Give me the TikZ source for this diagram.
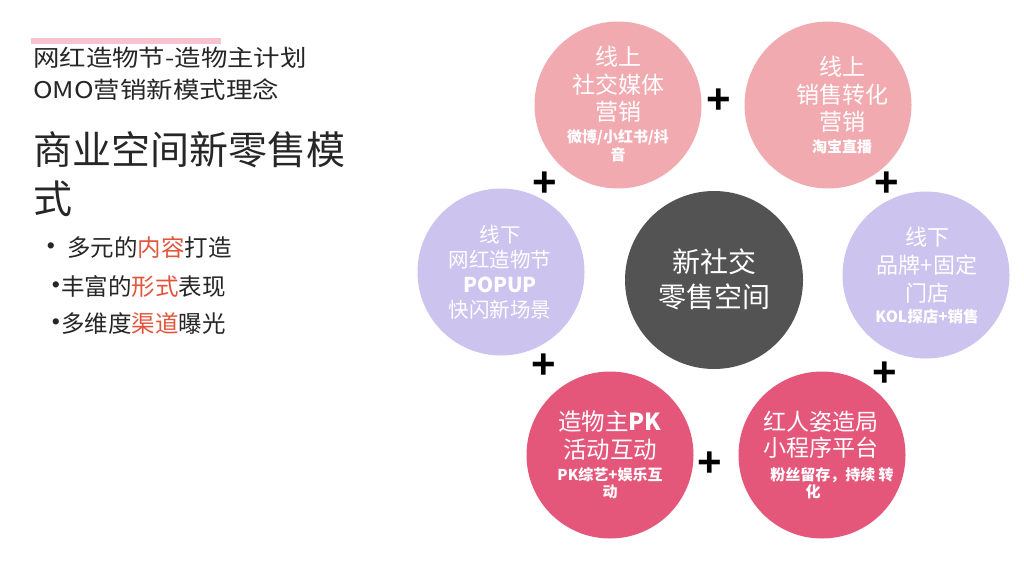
\documentclass[tikz,border=0pt]{standalone}
\usepackage{fontspec}
\setmainfont{Noto Sans CJK SC}
\newfontfamily\widefont[FakeStretch=1.15]{Noto Sans CJK SC}
\newfontfamily\plusfont{Liberation Sans}
\definecolor{pinkA}{HTML}{F2AAB1}
\definecolor{lavA}{HTML}{CCC3EE}
\definecolor{darkA}{HTML}{535353}
\definecolor{roseA}{HTML}{E4577B}
\definecolor{barA}{HTML}{F8C3D0}
\definecolor{txtA}{HTML}{262626}
\definecolor{redA}{HTML}{E2553C}
\newcommand\fsz[2]{\fontsize{#1}{#2}\selectfont}
\begin{document}
\begin{tikzpicture}[x=1pt,y=-1pt,
  bubble/.style={circle, draw=none, inner sep=0, minimum size=167pt},
  ctext/.style={text=white, align=center, inner sep=0},
  plussign/.style={font=\plusfont\bfseries\fsz{42}{42}, inner sep=0, text=black},
  lefttext/.style={anchor=west, inner sep=0, text=txtA},
  dot/.style={inner sep=0, text=txtA, font=\plusfont\fsz{23}{26}}]
\useasboundingbox (0,0) rectangle (1024,576);
\fill[white] (0,0) rectangle (1024,576);

% left column
\fill[barA] (31,38) rectangle (221,44);
\node[lefttext, font=\widefont\fsz{23}{28}] (t1) at (33,58) {网红造物节-造物主计划};
\node[lefttext, font=\widefont\fsz{23}{28}] (t2) at (33,90) {OMO营销新模式理念};
\node[lefttext, font=\fsz{39}{48}] (t3) at (33,150) {商业空间新零售模};
\node[lefttext, font=\fsz{39}{48}] (t4) at (33,199) {式};
\node[dot] (d1) at (51,248) {•};
\node[lefttext, font=\fsz{23.5}{26}] (b1) at (67,248) {多元的\textcolor{redA}{内容}打造};
\node[dot] (d2) at (56,287) {•};
\node[lefttext, font=\fsz{23.5}{26}] (b2) at (61,287) {丰富的\textcolor{redA}{形式}表现};
\node[dot] (d3) at (56,324) {•};
\node[lefttext, font=\fsz{23.5}{26}] (b3) at (61,324) {多维度\textcolor{redA}{渠道}曝光};

% circles
\node[bubble, fill=pinkA] (c1) at (618,105) {};
\node[bubble, fill=pinkA] (c2) at (828,105) {};
\node[bubble, fill=lavA] (c3) at (501,272) {};
\node[bubble, fill=darkA, minimum size=178pt] (c4) at (714,280) {};
\node[bubble, fill=lavA] (c5) at (926,275) {};
\node[bubble, fill=roseA] (c6) at (610,455) {};
\node[bubble, fill=roseA] (c7) at (822,455) {};

% circle texts
\node[ctext, font=\fsz{23}{27.5}] (c1m) at (618,84.5) {线上\\社交媒体\\营销};
\node[ctext, font=\bfseries\fsz{15}{18}] (c1s) at (618,146) {微博/小红书/抖\\音};
\node[ctext, font=\fsz{23}{27.5}] (c2m) at (842,94.5) {线上\\销售转化\\营销};
\node[ctext, font=\bfseries\fsz{15}{18}] (c2s) at (842,147) {淘宝直播};
\node[ctext, font=\fsz{20.5}{25}] (c3m) at (500,272.5) {线下\\网红造物节\\\textbf{POPUP}\\快闪新场景};
\node[ctext, font=\fsz{28}{35}] (c4m) at (714,279.5) {新社交\\零售空间};
\node[ctext, font=\fsz{22}{28}] (c5m) at (927,265) {线下\\品牌+固定\\门店};
\node[ctext, font=\bfseries\fsz{15.5}{18}] (c5s) at (927,317) {KOL探店+销售};
\node[ctext, font=\fsz{23.5}{28}] (c6m) at (610,436) {造物主\textbf{PK}\\活动互动};
\node[ctext, font=\bfseries\fsz{15}{17}] (c6s) at (610,483.5) {PK综艺+娱乐互\\动};
\node[ctext, font=\fsz{23}{26}] (c7m) at (821,435) {红人姿造局\\小程序平台};
\node[ctext, font=\bfseries\fsz{15}{17}] (c7s) at (832,475) {粉丝留存，持续 转};
\node[ctext, font=\bfseries\fsz{15}{17}] (c7t) at (813,492) {化};

% plus signs
\node[plussign] (p1) at (719,101) {+};
\node[plussign] (p2) at (545,184) {+};
\node[plussign] (p3) at (887,184) {+};
\node[plussign] (p4) at (544,366) {+};
\node[plussign] (p5) at (885,374) {+};
\node[plussign] (p6) at (710,464) {+};
\end{tikzpicture}
\end{document}
